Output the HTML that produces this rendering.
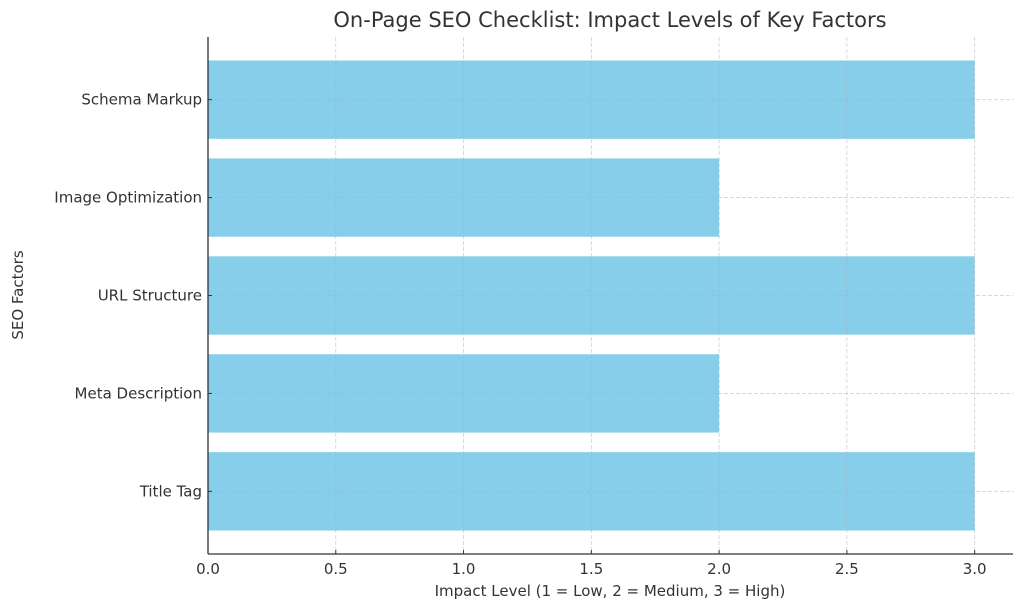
<!DOCTYPE html>
<html><head><meta charset="utf-8"><style>body{margin:0;background:#fff}svg{display:block}text{font-family:"DejaVu Sans","Liberation Sans",sans-serif;fill:#333}</style></head>
<body>
<svg id="chart" width="1024" height="610" xmlns="http://www.w3.org/2000/svg"></svg>
<script>
const categories=["Title Tag","Meta Description","URL Structure","Image Optimization","Schema Markup"];
const impactValues=[3,2,3,2,3];
const xTicks=[0,0.5,1,1.5,2,2.5,3];
const xTickLabels=["0.0","0.5","1.0","1.5","2.0","2.5","3.0"];
const svg=document.getElementById('chart');
const NS='http://www.w3.org/2000/svg';
const L=208,R=1013,T=37,B=554;
const xMin=0,xMax=3.15,yMin=-0.64,yMax=4.64;
const xs=v=>L+(v-xMin)/(xMax-xMin)*(R-L);
const ys=i=>B-(i-yMin)/(yMax-yMin)*(B-T);
function mk(tag,attrs,name,txt){const e=document.createElementNS(NS,tag);for(const k in attrs)e.setAttribute(k,attrs[k]);


if(txt!==undefined)e.textContent=txt;svg.appendChild(e);return e;}
mk('text',{x:610,y:27,'text-anchor':'middle','font-size':21},'chart-title','On-Page SEO Checklist: Impact Levels of Key Factors');
categories.forEach((c,i)=>{const y0=ys(i+0.4),y1=ys(i-0.4);
mk('rect',{x:xs(0),y:y0,width:xs(impactValues[i])-xs(0),height:y1-y0,fill:'#87ceeb'},'bar-'+c.toLowerCase().replace(/ /g,'-'));});
xTicks.forEach((t,i)=>{const x=xs(t);
mk('line',{x1:x,x2:x,y1:T,y2:B,stroke:'#b0b0b0','stroke-opacity':0.6,'stroke-dasharray':'4,2','stroke-width':0.8},'x-grid-line');
mk('line',{x1:x,x2:x,y1:B,y2:B-4,stroke:'#333','stroke-width':1},'x-tick');
mk('text',{x:x,y:B+20,'text-anchor':'middle','font-size':15},'x-tick-label',xTickLabels[i]);});
categories.forEach((c,i)=>{const y=ys(i);
mk('line',{x1:L,x2:R,y1:y,y2:y,stroke:'#b0b0b0','stroke-opacity':0.6,'stroke-dasharray':'4,2','stroke-width':0.8},'y-grid-line');
mk('line',{x1:L,x2:L+4,y1:y,y2:y,stroke:'#333','stroke-width':1},'y-tick');
mk('text',{x:L-6,y:y+5,'text-anchor':'end','font-size':15},'y-tick-label',c);});
mk('line',{x1:L,x2:L,y1:T,y2:B,stroke:'#333','stroke-width':1.3},'y-axis-spine');
mk('line',{x1:L,x2:R,y1:B,y2:B,stroke:'#333','stroke-width':1.3},'x-axis-spine');
mk('text',{x:610,y:596,'text-anchor':'middle','font-size':15},'x-axis-title','Impact Level (1 = Low, 2 = Medium, 3 = High)');
mk('text',{x:0,y:0,'text-anchor':'middle','font-size':15,transform:'translate(23,295) rotate(-90)'},'y-axis-title','SEO Factors');
</script>
</body></html>
